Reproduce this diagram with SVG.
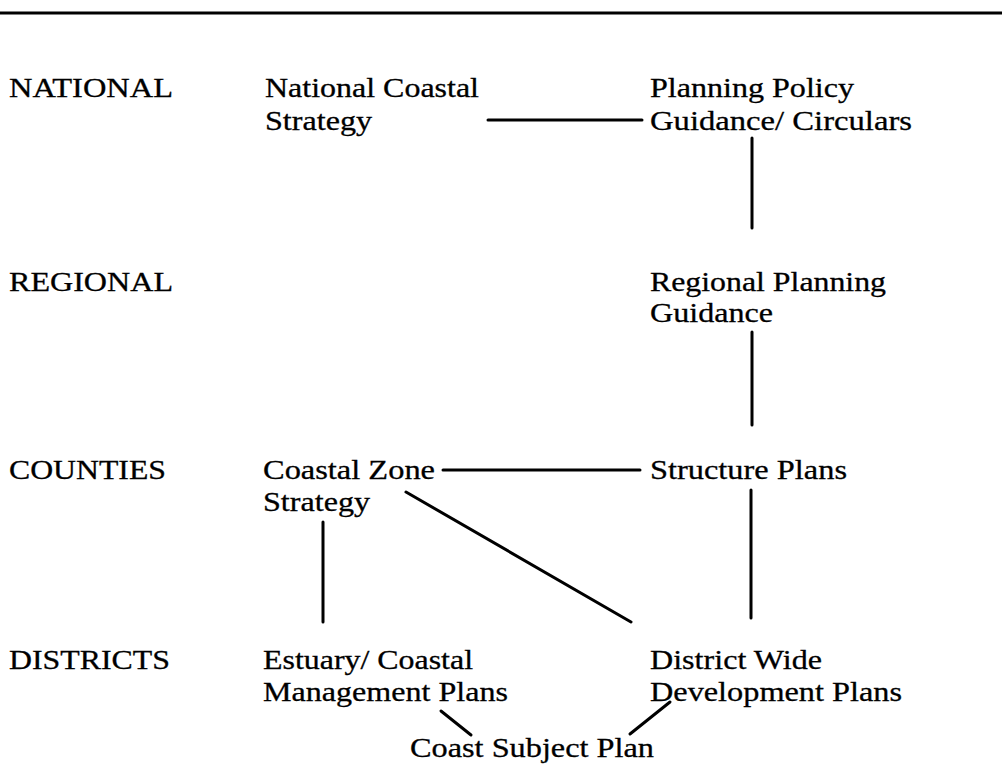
<svg xmlns="http://www.w3.org/2000/svg" width="1002" height="769" viewBox="0 0 1002 769">
<style>
text{font-family:"Liberation Serif","Times New Roman",serif;font-size:28px;fill:#000;stroke:#000;stroke-width:0.3}
.c line{stroke:#000;stroke-width:3;stroke-linecap:round}
</style>
<rect width="1002" height="769" fill="#fff"/>
<line x1="0" y1="13" x2="1002" y2="13" stroke="#000" stroke-width="3"/>
<g id="levels">
<text x="9" y="97" textLength="164" lengthAdjust="spacingAndGlyphs">NATIONAL</text>
<text x="9" y="291" textLength="164" lengthAdjust="spacingAndGlyphs">REGIONAL</text>
<text x="9" y="479" textLength="157" lengthAdjust="spacingAndGlyphs">COUNTIES</text>
<text x="9" y="669" textLength="161" lengthAdjust="spacingAndGlyphs">DISTRICTS</text>
</g>
<g id="national-coastal-strategy">
<text x="265" y="97" textLength="214" lengthAdjust="spacingAndGlyphs">National Coastal</text>
<text x="265" y="130" textLength="107" lengthAdjust="spacingAndGlyphs">Strategy</text>
</g>
<g id="planning-policy-guidance">
<text x="650" y="97" textLength="204" lengthAdjust="spacingAndGlyphs">Planning Policy</text>
<text x="650" y="130" textLength="262" lengthAdjust="spacingAndGlyphs">Guidance/ Circulars</text>
</g>
<g id="regional-planning-guidance">
<text x="650" y="291" textLength="236" lengthAdjust="spacingAndGlyphs">Regional Planning</text>
<text x="650" y="322" textLength="123" lengthAdjust="spacingAndGlyphs">Guidance</text>
</g>
<g id="coastal-zone-strategy">
<text x="263" y="479" textLength="172" lengthAdjust="spacingAndGlyphs">Coastal Zone</text>
<text x="263" y="511" textLength="107" lengthAdjust="spacingAndGlyphs">Strategy</text>
</g>
<g id="structure-plans">
<text x="650" y="479" textLength="197" lengthAdjust="spacingAndGlyphs">Structure Plans</text>
</g>
<g id="estuary-coastal-management-plans">
<text x="263" y="669" textLength="210" lengthAdjust="spacingAndGlyphs">Estuary/ Coastal</text>
<text x="263" y="701" textLength="245" lengthAdjust="spacingAndGlyphs">Management Plans</text>
</g>
<g id="district-wide-development-plans">
<text x="650" y="669" textLength="172" lengthAdjust="spacingAndGlyphs">District Wide</text>
<text x="650" y="701" textLength="252" lengthAdjust="spacingAndGlyphs">Development Plans</text>
</g>
<g id="coast-subject-plan">
<text x="410" y="757" textLength="244" lengthAdjust="spacingAndGlyphs">Coast Subject Plan</text>
</g>
<g class="c" id="connectors">
<line x1="488" y1="120" x2="642" y2="120"/>
<line x1="752" y1="138" x2="752" y2="228"/>
<line x1="752" y1="332" x2="752" y2="425"/>
<line x1="443" y1="470" x2="640" y2="470"/>
<line x1="751" y1="490" x2="751" y2="618"/>
<line x1="323" y1="522" x2="323" y2="622"/>
<line x1="406" y1="492" x2="631" y2="622"/>
<line x1="441" y1="711" x2="471" y2="735"/>
<line x1="670" y1="702" x2="630" y2="734"/>
</g>
</svg>
